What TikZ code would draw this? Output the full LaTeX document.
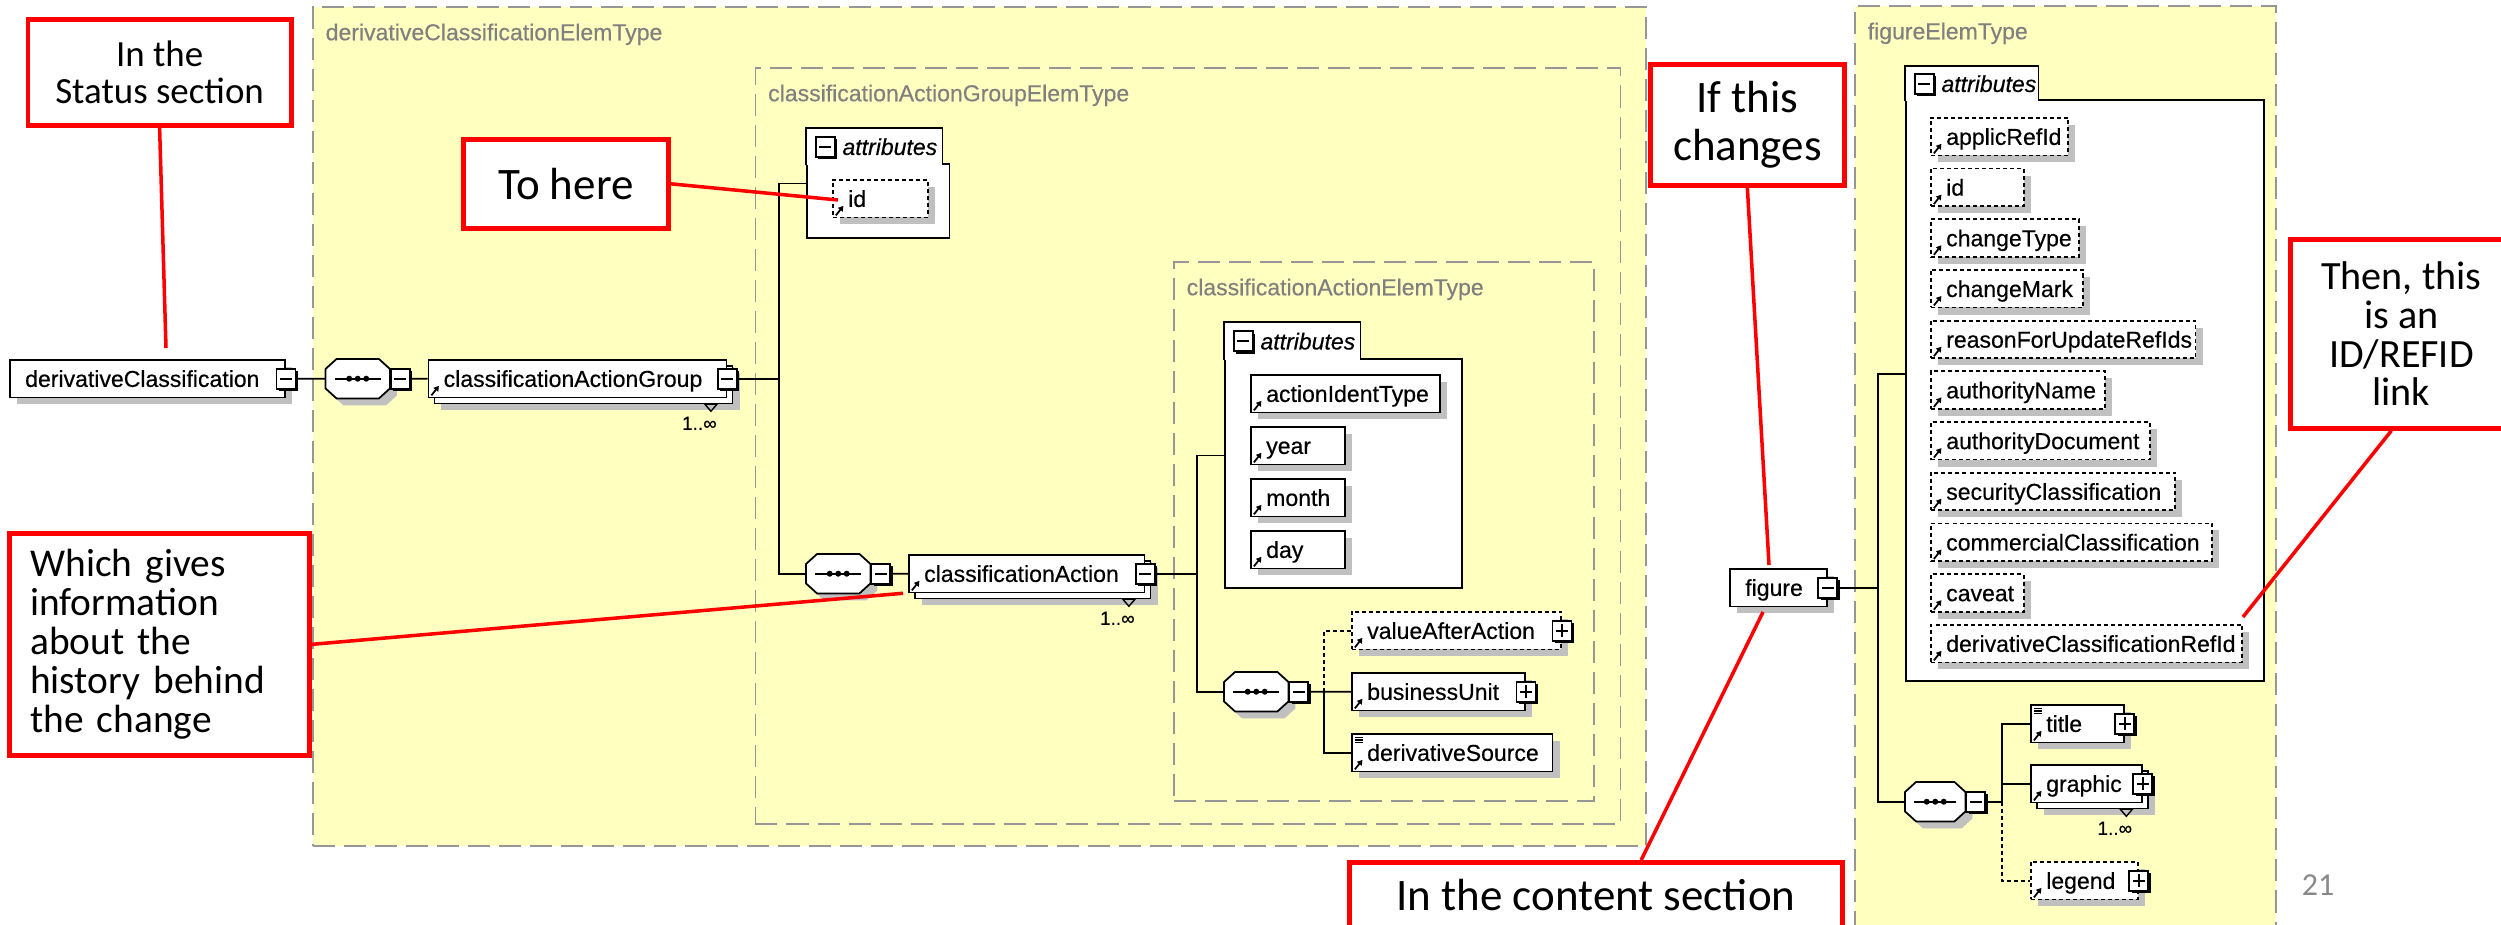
\documentclass[tikz,border=0pt]{standalone}
\usepackage{fontspec}
\setmainfont{Liberation Sans}
\newfontfamily\calibri{Carlito}
\newfontfamily\xsdfam[FakeBold=0.4]{Liberation Sans}
\usetikzlibrary{positioning,calc,shadows,arrows.meta}
\definecolor{typeyellow}{RGB}{255,255,192}
\definecolor{typegray}{RGB}{150,150,150}
\definecolor{labelgray}{RGB}{128,128,128}
\definecolor{shadowgray}{RGB}{192,192,192}
\definecolor{pagegray}{RGB}{137,137,137}
\newcommand\xsdfont{\xsdfam\fontsize{6.55pt}{7.5pt}\selectfont}

\begin{document}
\begin{tikzpicture}[x=0.01cm, y=-0.01cm,
  typebox/.style={draw=typegray, fill=typeyellow, line width=0.55pt,
    dash pattern=on 0.22cm off 0.09cm, anchor=north west, inner sep=0,
    label={[typelbl]north west:#1}},
  typelbl/.style={anchor=west, xshift=0.13cm, yshift=-0.26cm, text=labelgray,
    font=\xsdfont, inner sep=0, text height=0.165cm, text depth=0cm},
  xsdel/.style={draw, fill=white, line width=0.5pt, rectangle, inner sep=0,
    anchor=north west, minimum width=#1, minimum height=0.375cm,
    general shadow={fill=shadowgray, shadow xshift=0.07cm, shadow yshift=-0.07cm}},
  elabel/.style={anchor=west, xshift=0.155cm, font=\xsdfont, inner sep=0,
    text height=0.165cm, text depth=0cm},
  multi/.style={general shadow={fill=shadowgray, shadow xshift=0.13cm, shadow yshift=-0.13cm},
    copy shadow={shadow xshift=0.06cm, shadow yshift=-0.06cm}},
  opt/.style={dash pattern=on 0.04cm off 0.03cm},
  ref/.style={path picture={
    \draw[solid, line width=0.5pt, -{Triangle[length=0.05cm, width=0.06cm]}]
      ([xshift=0.03cm, yshift=0.02cm]path picture bounding box.south west) -- ++(0.075cm,0.095cm);}},
  txt/.style={path picture={
    \draw[solid, line width=0.5pt, -{Triangle[length=0.05cm, width=0.06cm]}]
      ([xshift=0.03cm, yshift=0.02cm]path picture bounding box.south west) -- ++(0.075cm,0.095cm);
    \draw[solid, line width=0.35pt]
      ([xshift=0.03cm, yshift=-0.035cm]path picture bounding box.north west) -- ++(0.085cm,0)
      ([xshift=0.03cm, yshift=-0.06cm]path picture bounding box.north west) -- ++(0.085cm,0)
      ([xshift=0.03cm, yshift=-0.085cm]path picture bounding box.north west) -- ++(0.085cm,0);}},
  btn/.style={draw, fill=white, line width=0.5pt, inner sep=0, minimum width=0.19cm,
    minimum height=0.2cm, general shadow={fill=black, shadow xshift=0.025cm, shadow yshift=-0.025cm}},
  btnminus/.style={btn, path picture={\draw[line width=0.5pt]
    ([xshift=0.035cm]path picture bounding box.west) -- ([xshift=-0.035cm]path picture bounding box.east);}},
  btnplus/.style={btn, path picture={\draw[line width=0.5pt]
    ([xshift=0.035cm]path picture bounding box.west) -- ([xshift=-0.035cm]path picture bounding box.east)
    ([yshift=0.035cm]path picture bounding box.south) -- ([yshift=-0.035cm]path picture bounding box.north);}},
  seqbox/.style={anchor=north west, inner sep=0, minimum width=0.63cm, minimum height=0.38cm},
  seqline/.style={draw, fill=white, line width=0.5pt,
    general shadow={fill=shadowgray, shadow xshift=0.07cm, shadow yshift=-0.07cm}},
  attbody/.style={draw, fill=white, line width=0.5pt, anchor=north west, inner sep=0},
  atttab/.style={fill=white, anchor=north west, inner sep=0},
  attlbl/.style={font=\xsdfont\itshape, inner sep=0, text height=0.165cm, text depth=0cm},
  link/.style={line width=0.5pt},
  optlink/.style={link, dash pattern=on 0.04cm off 0.03cm},
  callout/.style={draw=red, line width=1.3pt, fill=white, anchor=north west, inner sep=0, align=center},
  redline/.style={red, line width=1pt},
  mult/.style={font=\xsdfam\fontsize{5.4pt}{6pt}\selectfont, inner sep=0}]

\useasboundingbox (0,0) rectangle (2501,925);
\clip (0,0) rectangle (2501,925);

% --- Tipos complejos ---
\node[typebox=derivativeClassificationElemType, minimum width=13.32cm, minimum height=8.39cm] (dcet) at (312,6) {};
\node[typebox=classificationActionGroupElemType, minimum width=8.645cm, minimum height=7.56cm] (caget) at (754.5,67) {};
\node[typebox=classificationActionElemType, minimum width=4.2cm, minimum height=5.39cm] (caet) at (1173,261) {};
\node[typebox=figureElemType, minimum width=4.21cm, minimum height=9.5cm] (fet) at (1854,5) {};

% --- Cajas de atributos ---
\node[attbody, minimum width=1.425cm, minimum height=0.74cm] (att1) at (806,163) {};
\node[atttab, minimum width=1.35cm, minimum height=0.36cm] (att1t) at (806,128) {};
\node[attbody, minimum width=2.37cm, minimum height=2.29cm] (att2) at (1224,358) {};
\node[atttab, minimum width=1.35cm, minimum height=0.37cm] (att2t) at (1224,322) {};
\node[attbody, minimum width=3.58cm, minimum height=5.81cm] (att3) at (1905,99) {};
\node[atttab, minimum width=1.32cm, minimum height=0.34cm] (att3t) at (1905,66) {};
\foreach \a in {att1,att2,att3} {
  \draw[line width=0.5pt] (\a t.south west) |- (\a t.north east) -- (\a t.south east);
  \node[btnminus, right=0.09cm of \a t.west] (\a b) {};
  \node[attlbl, right=0.06cm of \a b] (\a l) {attributes};
  \coordinate (\a c) at ($(\a t.north west)!0.5!(\a.south west)$);
}

% --- Elementos ---
\node[xsdel=2.75cm, label={[elabel]west:derivativeClassification}] (dc) at (9,359) {};
\node[xsdel=2.98cm, multi, ref, label={[elabel]west:classificationActionGroup}] (cag) at (427.5,359) {};
\node[xsdel=0.95cm, opt, ref, label={[elabel]west:id}] (id1) at (832,179) {};
\node[xsdel=2.355cm, multi, ref, label={[elabel]west:classificationAction}] (ca) at (908,554) {};
\node[xsdel=1.89cm, ref, label={[elabel]west:actionIdentType}] (ait) at (1250,374) {};
\foreach \n [count=\i from 0] in {year,month,day}
  \node[xsdel=0.94cm, ref, label={[elabel]west:\n}] (\n) at (1250,{426+52*\i}) {};
\node[xsdel=2.09cm, opt, ref, label={[elabel]west:valueAfterAction}] (va) at (1351,611) {};
\node[xsdel=1.73cm, ref, label={[elabel]west:businessUnit}] (bu) at (1351,672) {};
\node[xsdel=2.005cm, txt, label={[elabel]west:derivativeSource}] (ds) at (1351,733) {};
\node[xsdel=0.97cm, label={[elabel]west:figure}] (fig) at (1729,568) {};
\foreach \n/\w [count=\i from 0] in {applicRefId/1.37, id/0.93, changeType/1.48,
    changeMark/1.52, reasonForUpdateRefIds/2.645, authorityName/1.74,
    authorityDocument/2.19, securityClassification/2.44,
    commercialClassification/2.81, caveat/0.93, derivativeClassificationRefId/3.11}
  \node[xsdel=\w cm, opt, ref, label={[elabel]west:\n}] (fa\i) at (1930,{117+50.7*\i}) {};
\node[xsdel=0.93cm, txt, label={[elabel]west:title}] (title) at (2030,704) {};
\node[xsdel=1.11cm, multi, ref, label={[elabel]west:graphic}] (graphic) at (2030,764) {};
\node[xsdel=1.07cm, opt, ref, label={[elabel]west:legend}] (legend) at (2030,861) {};

% --- Secuencias ---
\node[seqbox] (seq1) at (325.5,359) {};
\node[seqbox] (seq2) at (806,554) {};
\node[seqbox] (seq3) at (1224,672) {};
\node[seqbox, minimum width=0.59cm] (seq4) at (1905,782) {};
\foreach \s in {seq1,seq2,seq3,seq4} {
  \draw[seqline] ([xshift=0.11cm]\s.north west) -- ([xshift=-0.11cm]\s.north east)
    -- ([yshift=-0.1cm]\s.north east) -- ([yshift=0.1cm]\s.south east)
    -- ([xshift=-0.11cm]\s.south east) -- ([xshift=0.11cm]\s.south west)
    -- ([yshift=0.1cm]\s.south west) -- ([yshift=-0.1cm]\s.north west) -- cycle;
  \draw[link] ([xshift=0.09cm]\s.west) -- ([xshift=-0.09cm]\s.east);
  \foreach \d in {-0.085,0,0.085}
    \fill ([xshift=\d cm]\s.center) circle (0.03cm);
  \node[btnminus, anchor=west] (b\s) at (\s.east) {};
}

% --- Botones ---
\node[btnminus] (bdc) at (dc.east) {};
\node[btnminus] (bcag) at (cag.east) {};
\node[btnminus] (bca) at (ca.east) {};
\node[btnplus] (bva) at (va.east) {};
\node[btnplus] (bbu) at (bu.east) {};
\node[btnminus] (bfig) at (fig.east) {};
\node[btnplus] (btitle) at (title.east) {};
\node[btnplus] (bgraphic) at (graphic.east) {};
\node[btnplus] (blegend) at (legend.east) {};

% --- Conexiones ---
\coordinate (j1) at (cag.east -| 779,0);
\coordinate (j2) at (ca.east -| 1197,0);
\coordinate (j3) at (seq3.east -| 1324,0);
\coordinate (j4) at (fig.east -| 1878,0);
\coordinate (j5) at (seq4.east -| 2002,0);
\draw[link] (bdc.east) -- (seq1.west);
\draw[link] (bseq1.east) -- (cag.west);
\draw[link] (bcag.east) -- (j1) |- (att1c);
\draw[link] (j1) |- (seq2.west);
\draw[link] (bseq2.east) -- (ca.west);
\draw[link] (bca.east) -- (j2) |- (att2c);
\draw[link] (j2) |- (seq3.west);
\draw[link] (bseq3.east) -- (bu.west);
\draw[optlink] (j3) |- (va.west);
\draw[link] (j3) |- (ds.west);
\draw[link] (bfig.east) -- (j4) |- (att3c);
\draw[link] (j4) |- (seq4.west);
\draw[link] (bseq4.east) -- (j5) |- (title.west);
\draw[link] (j5) |- (graphic.west);
\draw[optlink] (j5) |- (legend.west);

% --- Multiplicidad ---
\foreach \m in {cag,ca,graphic} {
  \draw[line width=0.4pt] ([shift={(-0.225cm,-0.06cm)}]\m.south east) -- ([shift={(-0.105cm,-0.06cm)}]\m.south east)
    -- ([shift={(-0.165cm,-0.13cm)}]\m.south east) -- cycle;
  \node[mult] (m\m) at ([shift={(-0.28cm,-0.25cm)}]\m.south east) {1..∞};
}

% --- Notas ---
\node[callout, minimum width=2.635cm, minimum height=1.06cm,
  font=\calibri\fontsize{10.5pt}{10.3pt}\selectfont] (c1) at (25.5,17) {In the\\Status section};
\node[callout, minimum width=2.05cm, minimum height=0.89cm,
  font=\calibri\fontsize{12.8pt}{13.7pt}\selectfont] (c2) at (461,137) {To here};
\node[callout, minimum width=3cm, minimum height=2.22cm, text width=2.58cm, align=left,
  font=\calibri\fontsize{11.2pt}{11.1pt}\selectfont] (c3) at (7,531)
  {Which gives\\information\\about the\\history behind\\the change};
\node[callout, minimum width=1.94cm, minimum height=1.21cm,
  font=\calibri\fontsize{12.8pt}{13.7pt}\selectfont] (c4) at (1648,62) {If this\\changes};
\node[callout, minimum width=4.93cm, minimum height=0.66cm,
  font=\calibri\fontsize{12.8pt}{13.7pt}\selectfont] (c5) at (1347,860) {In the content section};
\node[callout, minimum width=2.22cm, minimum height=1.89cm,
  font=\calibri\fontsize{11.4pt}{11pt}\selectfont] (c6) at (2288,237) {Then, this\\is an\\ID/REFID\\link};

\coordinate (p1) at (166,348);
\coordinate (p2) at (838,200);
\coordinate (p4) at (1769,565);
\coordinate (p5) at (1763,612);
\draw[redline] (c1.south) -- (p1);
\draw[redline] (c2.east) -- (p2);
\draw[redline] (c3.east) -- ([xshift=-0.05cm]ca.south west);
\draw[redline] (c4.south) -- (p4);
\draw[redline] (p5) -- ([xshift=2.94cm]c5.north west);
\draw[redline] ([xshift=-0.1cm]c6.south) -- ([yshift=0.07cm]fa10.north east);

\node[font=\calibri\fontsize{9.1pt}{10pt}\selectfont, text=pagegray, inner sep=0] (pg) at (2318,885) {21};

\end{tikzpicture}
\end{document}
